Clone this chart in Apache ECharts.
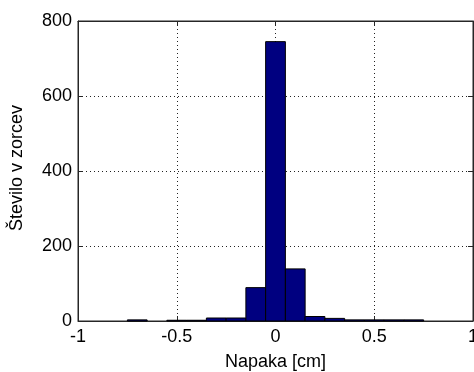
<!DOCTYPE html>
<html>
<head>
<meta charset="utf-8">
<script src="https://cdn.jsdelivr.net/npm/echarts@6/dist/echarts.min.js"></script>
<style>
  html, body { margin: 0; padding: 0; background: #fff; }
  #chart { width: 474px; height: 372px; }
</style>
</head>
<body>
<div id="chart"></div>
<script>
// Histogram of measurement error: bin centres (cm) and counts per bin
const binCenters = [-0.9, -0.8, -0.7, -0.6, -0.5, -0.4, -0.3, -0.2, -0.1, 0, 0.1, 0.2, 0.3, 0.4, 0.5, 0.6, 0.7, 0.8, 0.9];
const binCounts  = [0, 0, 3, 0, 2, 2, 8, 8, 89, 745, 139, 12, 7, 3, 3, 3, 3, 0, 0];
const binWidth = 0.1;
const xTicks = [-1, -0.5, 0, 0.5, 1];
const yTicks = [0, 200, 400, 600, 800];

const FONT = 'Liberation Sans, Arial, sans-serif';
const FONT_SIZE = 18;
const AXIS_COLOR = '#262626';

const chart = echarts.init(document.getElementById('chart'), null, { renderer: 'canvas' });

const histData = binCenters.map((c, i) => [c, binCounts[i]]);

function axisCommon(showLabels, margin, isX) {
  const label = {
    show: showLabels, color: '#000', fontFamily: FONT, fontSize: FONT_SIZE,
    margin: margin, showMinLabel: true, showMaxLabel: true, hideOverlap: false,
  };
  if (isX) {
    label.alignMinLabel = 'center';
    label.alignMaxLabel = 'center';
  }
  return {
    axisLine: { show: true, onZero: false, lineStyle: { color: AXIS_COLOR, width: 1 } },
    axisTick: { show: true, inside: true, length: 5, lineStyle: { color: AXIS_COLOR } },
    axisLabel: label,
  };
}

const dotted = { show: true, lineStyle: { color: '#222', type: [1, 3], width: 1 } };

chart.setOption({
  animation: false,
  grid: {
    left: 78, top: 21, right: 1, bottom: 51, containLabel: false,
    outerBoundsMode: 'none',
    show: true, borderColor: AXIS_COLOR, borderWidth: 1, backgroundColor: 'transparent',
  },
  xAxis: [
    Object.assign({
      type: 'value', min: xTicks[0], max: xTicks[xTicks.length - 1], interval: 0.5,
      position: 'bottom',
      name: 'Napaka [cm]', nameLocation: 'middle', nameGap: 32,
      nameTextStyle: { color: '#000', fontFamily: FONT, fontSize: FONT_SIZE },
      splitLine: dotted,
    }, axisCommon(true, 7, true)),
    Object.assign({
      type: 'value', min: xTicks[0], max: xTicks[xTicks.length - 1], interval: 0.5,
      position: 'top', splitLine: { show: false },
    }, axisCommon(false, 7, true)),
  ],
  yAxis: [
    Object.assign({
      type: 'value', min: yTicks[0], max: yTicks[yTicks.length - 1], interval: 200,
      position: 'left',
      splitLine: dotted,
    }, axisCommon(true, 6, false)),
    Object.assign({
      type: 'value', min: yTicks[0], max: yTicks[yTicks.length - 1], interval: 200,
      position: 'right', splitLine: { show: false },
    }, axisCommon(false, 6, false)),
  ],
  graphic: [{
    type: 'text',
    x: 8,
    y: 168,
    rotation: Math.PI / 2,
    style: {
      text: 'Število v zorcev',
      fill: '#000',
      font: FONT_SIZE + 'px ' + FONT,
      align: 'center',
      verticalAlign: 'top',
    },
  }],
  series: [{
    type: 'custom',
    xAxisIndex: 0,
    yAxisIndex: 0,
    data: histData,
    renderItem: function (params, api) {
      const c = api.value(0);
      const h = api.value(1);
      if (!h) return null;
      const p0 = api.coord([c - binWidth / 2, h]);
      const p1 = api.coord([c + binWidth / 2, 0]);
      return {
        type: 'rect',
        shape: { x: p0[0], y: p0[1], width: p1[0] - p0[0], height: p1[1] - p0[1] },
        style: { fill: '#000080', stroke: '#000', lineWidth: 1 },
      };
    },
  }, {
    // keeps the top/right tick axes attached to the grid
    type: 'line',
    xAxisIndex: 1,
    yAxisIndex: 1,
    data: [],
    silent: true,
  }],
});
</script>
</body>
</html>
